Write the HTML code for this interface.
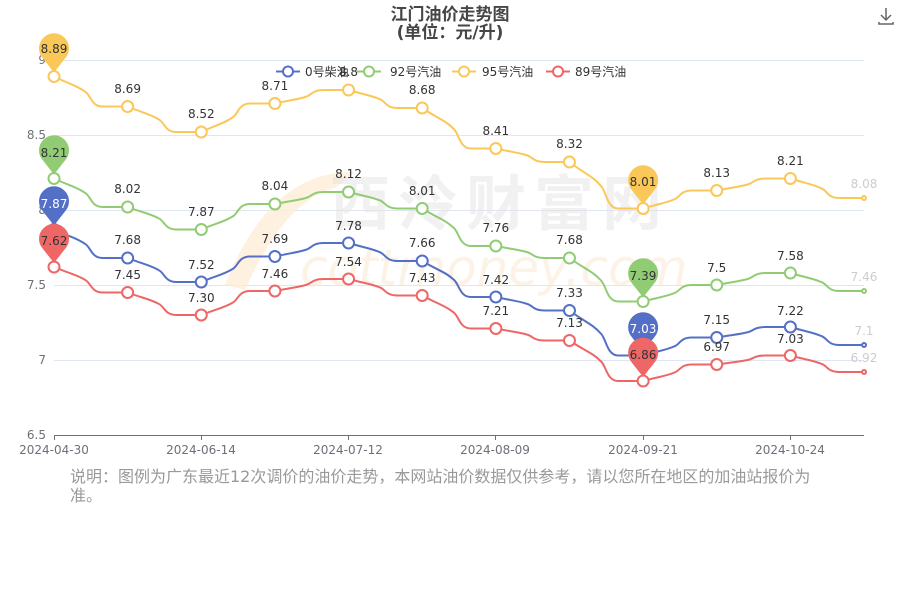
<!DOCTYPE html>
<html><head><meta charset="utf-8"><style>
body{margin:0;background:#fff;width:900px;height:600px;overflow:hidden;font-family:"DejaVu Sans","Noto Sans CJK SC",sans-serif}
svg{position:absolute;left:0;top:0}
.note{position:absolute;left:70px;top:467px;width:750px;font-size:16px;line-height:19px;color:#999}
</style></head><body>
<svg width="900" height="600" viewBox="0 0 900 600" font-family="DejaVu Sans, Noto Sans CJK SC, sans-serif">
<text x="450" y="20" text-anchor="middle" font-size="17" font-weight="bold" fill="#464646">江门油价走势图</text>
<text x="450" y="38" text-anchor="middle" font-size="17" font-weight="bold" fill="#464646">(单位：元/升)</text>
<g stroke="#666" stroke-width="1.5" fill="none"><path d="M886 8v12M881 15l5 5 5-5M879 22v2h14v-2"/></g>
<g stroke="#e0e6f1" stroke-width="1">
<line x1="54" x2="864" y1="60.5" y2="60.5"/><line x1="54" x2="864" y1="135.5" y2="135.5"/><line x1="54" x2="864" y1="210.5" y2="210.5"/><line x1="54" x2="864" y1="285.5" y2="285.5"/><line x1="54" x2="864" y1="360.5" y2="360.5"/>
</g>
<line x1="54" x2="864" y1="435.5" y2="435.5" stroke="#6e7079"/>
<g stroke="#6e7079"><line x1="54.5" x2="54.5" y1="435" y2="440"/><line x1="201.5" x2="201.5" y1="435" y2="440"/><line x1="348.5" x2="348.5" y1="435" y2="440"/><line x1="495.5" x2="495.5" y1="435" y2="440"/><line x1="643.5" x2="643.5" y1="435" y2="440"/><line x1="790.5" x2="790.5" y1="435" y2="440"/></g>
<g font-size="12" fill="#6e7079" text-anchor="end">
<text x="46" y="439">6.5</text><text x="46" y="364">7</text><text x="46" y="289">7.5</text><text x="46" y="214">8</text><text x="46" y="139">8.5</text><text x="46" y="64">9</text>
</g>
<g font-size="12" fill="#6e7079" text-anchor="middle">
<text x="54" y="454">2024-04-30</text><text x="201" y="454">2024-06-14</text><text x="348" y="454">2024-07-12</text><text x="495" y="454">2024-08-09</text><text x="643" y="454">2024-09-21</text><text x="790" y="454">2024-10-24</text>
</g>
<!-- watermark -->
<path d="M225 285 Q270 170 355 172 L335 188 Q285 200 245 290 Z" fill="#fdebd2" opacity="0.7"/>
<text x="330" y="225" font-size="60" font-weight="bold" fill="#e4e4e4" opacity="0.5" letter-spacing="8">西泠财富网</text>
<text x="300" y="285" font-size="50" font-style="italic" fill="#fbe6cc" opacity="0.5">cottmoney.com</text>
<g id="series"></g>
<g font-size="12" fill="#333" text-anchor="middle" id="labels">
<text x="127.6" y="93">8.69</text><text x="201.3" y="118">8.52</text><text x="274.9" y="90">8.71</text><text x="348.5" y="76">8.8</text><text x="422.2" y="94">8.68</text><text x="495.8" y="135">8.41</text><text x="569.5" y="148">8.32</text><text x="716.7" y="177">8.13</text><text x="790.4" y="165">8.21</text><text x="864" y="188" fill="#ccc">8.08</text>
<text x="127.6" y="193">8.02</text><text x="201.3" y="216">7.87</text><text x="274.9" y="190">8.04</text><text x="348.5" y="178">8.12</text><text x="422.2" y="195">8.01</text><text x="495.8" y="232">7.76</text><text x="569.5" y="244">7.68</text><text x="716.7" y="272">7.5</text><text x="790.4" y="260">7.58</text><text x="864" y="281" fill="#ccc">7.46</text>
<text x="127.6" y="244">7.68</text><text x="201.3" y="269">7.52</text><text x="274.9" y="243">7.69</text><text x="348.5" y="230">7.78</text><text x="422.2" y="247">7.66</text><text x="495.8" y="284">7.42</text><text x="569.5" y="297">7.33</text><text x="716.7" y="324">7.15</text><text x="790.4" y="315">7.22</text><text x="864" y="335" fill="#ccc">7.1</text>
<text x="127.6" y="279">7.45</text><text x="201.3" y="302">7.30</text><text x="274.9" y="278">7.46</text><text x="348.5" y="266">7.54</text><text x="422.2" y="282">7.43</text><text x="495.8" y="315">7.21</text><text x="569.5" y="327">7.13</text><text x="716.7" y="351">6.97</text><text x="790.4" y="343">7.03</text><text x="864" y="362" fill="#ccc">6.92</text>
</g>
<g id="pins"></g>
<g font-size="12" text-anchor="middle">
<text x="54" y="53" fill="#333">8.89</text><text x="643" y="186" fill="#333">8.01</text>
<text x="54" y="157" fill="#333">8.21</text><text x="643" y="280" fill="#333">7.39</text>
<text x="54" y="208" fill="#fff">7.87</text><text x="643" y="333" fill="#fff">7.03</text>
<text x="54" y="245" fill="#333">7.62</text><text x="643" y="359" fill="#333">6.86</text>
</g>
<g font-size="12" fill="#333">
<line x1="276" x2="300" y1="71.5" y2="71.5" stroke="#5470c6" stroke-width="2"/><circle cx="288" cy="71.5" r="5" fill="#fff" stroke="#5470c6" stroke-width="2"/><text x="305" y="76">0号柴油</text>
<line x1="357" x2="381" y1="71.5" y2="71.5" stroke="#91cc75" stroke-width="2"/><circle cx="369" cy="71.5" r="5" fill="#fff" stroke="#91cc75" stroke-width="2"/><text x="390" y="76">92号汽油</text>
<line x1="452" x2="476" y1="71.5" y2="71.5" stroke="#fac858" stroke-width="2"/><circle cx="464" cy="71.5" r="5" fill="#fff" stroke="#fac858" stroke-width="2"/><text x="482" y="76">95号汽油</text>
<line x1="546" x2="570" y1="71.5" y2="71.5" stroke="#ee6666" stroke-width="2"/><circle cx="558" cy="71.5" r="5" fill="#fff" stroke="#ee6666" stroke-width="2"/><text x="575" y="76">89号汽油</text>
</g>
</svg>
<div class="note">说明：图例为广东最近12次调价的油价走势，本网站油价数据仅供参考，请以您所在地区的加油站报价为准。</div>
<script>
var X=[];for(var i=0;i<12;i++)X.push(54+i*73.64);
function Y(v){return 435-(v-6.5)*150;}
var S=[["#fac858",[8.89,8.69,8.52,8.71,8.8,8.68,8.41,8.32,8.01,8.13,8.21,8.08]],
["#91cc75",[8.21,8.02,7.87,8.04,8.12,8.01,7.76,7.68,7.39,7.5,7.58,7.46]],
["#5470c6",[7.87,7.68,7.52,7.69,7.78,7.66,7.42,7.33,7.03,7.15,7.22,7.1]],
["#ee6666",[7.62,7.45,7.30,7.46,7.54,7.43,7.21,7.13,6.86,6.97,7.03,6.92]]];
var g="",p="";
S.forEach(function(s){var c=s[0],d=s[1];var path="M"+X[0]+" "+Y(d[0]);
for(var i=0;i<11;i++){var x0=X[i],x1=X[i+1],y0=Y(d[i]),y1=Y(d[i+1]);var m=(x0+x1)/2;
path+=" C"+(x0+15)+" "+(y0+(y1-y0)*0.25)+" "+(m-14)+" "+(y0+(y1-y0)*0.3)+" "+(m-6)+" "+(y0+(y1-y0)*0.5)
+" C"+(m)+" "+(y0+(y1-y0)*0.6)+" "+(m)+" "+y1+" "+(m+12)+" "+y1+" L"+x1+" "+y1;}
g+='<path d="'+path+'" fill="none" stroke="'+c+'" stroke-width="2"/>';
for(var i=0;i<12;i++){g+='<circle cx="'+X[i]+'" cy="'+Y(d[i])+'" r="'+(i==11?2:5.5)+'" fill="#fff" stroke="'+c+'" stroke-width="2"/>';}
[0,8].forEach(function(i){var x=X[i],y=Y(d[i]);var cy=y-28;
p+='<path d="M'+x+' '+(y-4)+' L'+(x-11)+' '+(cy+10)+' A15 15 0 1 1 '+(x+11)+' '+(cy+10)+' Z" fill="'+c+'"/>';});
});
document.getElementById("series").innerHTML=g;document.getElementById("pins").innerHTML=p;
</script>
</body></html>
